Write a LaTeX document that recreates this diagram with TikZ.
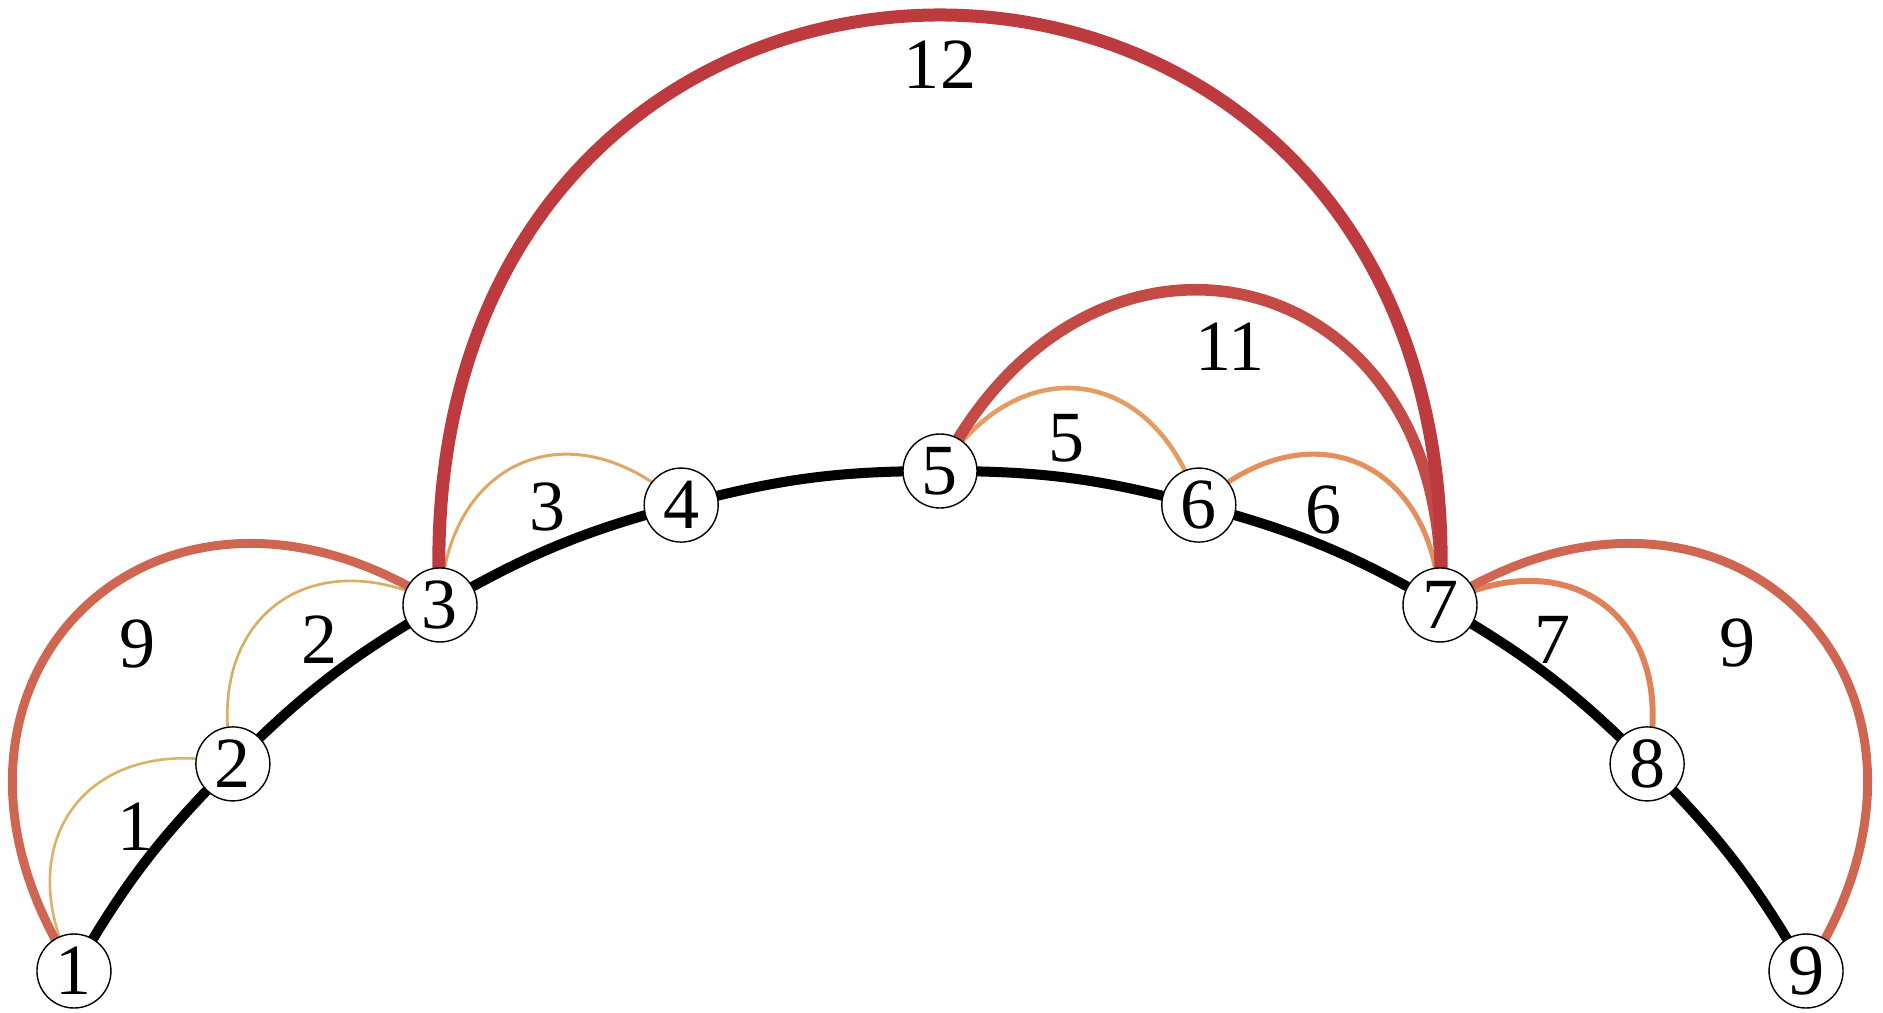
\documentclass[tikz,border=0pt]{standalone}
\usepackage{fontspec}
\setmainfont{Liberation Serif}
\usetikzlibrary{backgrounds}
\definecolor{wone}{HTML}{D9B468}
\definecolor{wtwo}{HTML}{D7AE62}
\definecolor{wthree}{HTML}{DFA664}
\definecolor{wfive}{HTML}{E49C63}
\definecolor{wsix}{HTML}{E38F5E}
\definecolor{wseven}{HTML}{DF825A}
\definecolor{wnine}{HTML}{CF6652}
\definecolor{weleven}{HTML}{C44B45}
\definecolor{wtwelve}{HTML}{BD3B3F}

\begin{document}
\begin{tikzpicture}
    \tikzset{
      vertex/.style={circle,draw,fill=white,line width=0.4pt,minimum size=0.74cm,inner sep=0pt,font=\fontsize{20.5}{20.5}\selectfont},
      weight/.style={inner sep=0pt,font=\fontsize{20.5}{20.5}\selectfont},
      spine/.style={line width=2.85pt,black,bend left=7.5},
      near/.style={bend left=65,looseness=1.44},
      mid/.style={bend left=78,looseness=1.68},
      far/.style={bend left=93,looseness=2.02},
      w1/.style={draw=wone,line width=0.75pt},
      w2/.style={draw=wtwo,line width=0.75pt},
      w3/.style={draw=wthree,line width=0.85pt},
      w5/.style={draw=wfive,line width=1.3pt},
      w6/.style={draw=wsix,line width=1.45pt},
      w7/.style={draw=wseven,line width=1.7pt},
      w9/.style={draw=wnine,line width=2.55pt},
      w11/.style={draw=weleven,line width=3.3pt},
      w12/.style={draw=wtwelve,line width=3.7pt}
    }
    \useasboundingbox (-9.40,4.59) rectangle (9.43,14.71);
    % vertices
    \node[vertex] (n1) at (150:10) {1};
    \node[vertex] (n2) at (135:10) {2};
    \node[vertex] (n3) at (120:10) {3};
    \node[vertex] (n4) at (105:10) {4};
    \node[vertex] (n5) at (90:10) {5};
    \node[vertex] (n6) at (75:10) {6};
    \node[vertex] (n7) at (60:10) {7};
    \node[vertex] (n8) at (45:10) {8};
    \node[vertex] (n9) at (30:10) {9};

    % weights
    \node[weight] (lab1) at (-8.04,6.44) {1};
    \node[weight] (lab2) at (-6.20,8.31) {2};
    \node[weight] (lab3) at (-3.92,9.64) {3};
    \node[weight] (lab5) at (1.27,10.33) {5};
    \node[weight] (lab6) at (3.84,9.61) {6};
    \node[weight] (lab7) at (6.12,8.31) {7};
    \node[weight] (lab9a) at (-8.02,8.27) {9};
    \node[weight] (lab9b) at (7.97,8.28) {9};
    \node[weight] (lab11) at (2.90,11.24) {11};
    \node[weight] (lab12) at (0,14.06) {12};

    %edges
    \begin{scope}[on background layer]
    \draw[spine] (n1.center) to (n2.center);
    \draw[spine] (n2.center) to (n3.center);
    \draw[spine] (n3.center) to (n4.center);
    \draw[spine] (n4.center) to (n5.center);
    \draw[spine] (n5.center) to (n6.center);
    \draw[spine] (n6.center) to (n7.center);
    \draw[spine] (n7.center) to (n8.center);
    \draw[spine] (n8.center) to (n9.center);
    \draw[w1] (n1.center) to[near] (n2.center);
    \draw[w2] (n2.center) to[near] (n3.center);
    \draw[w3] (n3.center) to[near] (n4.center);
    \draw[w5] (n5.center) to[near] (n6.center);
    \draw[w6] (n6.center) to[near] (n7.center);
    \draw[w7] (n7.center) to[near] (n8.center);
    \draw[w9] (n1.center) to[mid] (n3.center);
    \draw[w9] (n7.center) to[mid] (n9.center);
    \draw[w11] (n5.center) to[mid] (n7.center);
    \draw[w12] (n3.center) to[far] (n7.center);
    \end{scope}
\end{tikzpicture}
\end{document}
